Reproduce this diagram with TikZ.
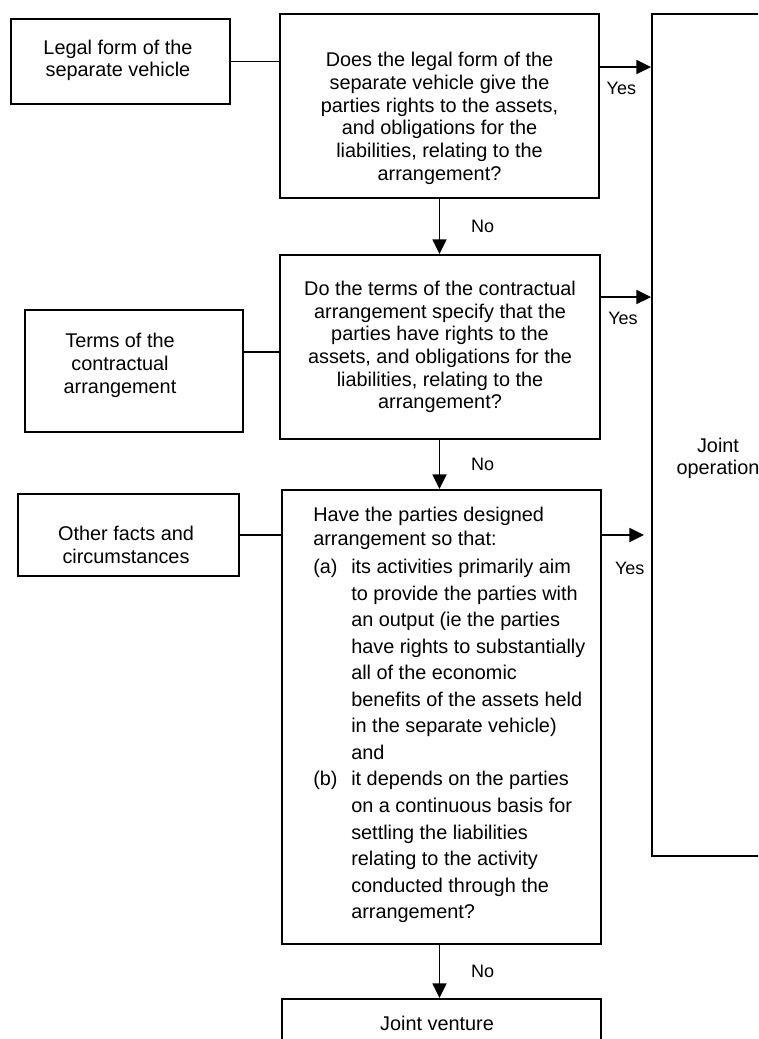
\documentclass[tikz,border=0pt]{standalone}
\usepackage{fontspec}
\setmainfont{Liberation Sans}
\usetikzlibrary{arrows.meta,positioning,fit,calc}

\begin{document}
\begin{tikzpicture}[
  x=0.75pt, y=-0.75pt,
  font=\fontsize{14.9}{17}\selectfont,
  box/.style={draw, line width=1.45pt, inner sep=0pt},
  txt/.style={align=center, inner sep=0pt},
  lbl/.style={font=\fontsize{13.5}{16}\selectfont, inner sep=0pt},
  link/.style={line width=1.4pt},
  arr/.style={line width=1.4pt, -{Triangle[length=11pt,width=10.5pt]}}
]
\useasboundingbox (0,0) rectangle (758,1039);
\clip (0,0) rectangle (758,1039);

% boxes
\node[box, fit={(11,19) (230,104)}] (legal) {};
\node[box, fit={(280,14) (599,198)}] (q1) {};
\node[box, fit={(652,14) (784,856)}] (jop) {};
\node[box, fit={(25,310) (243,432)}] (terms) {};
\node[box, fit={(280,255) (600,439)}] (q2) {};
\node[box, fit={(18,494) (239,576)}] (other) {};
\node[box, fit={(282,490) (601,944)}] (q3) {};
\node[box, fit={(282,999) (601,1070)}] (jv) {};

% texts
\node[txt] (legaltxt) at (118,60.5) {Legal form of the\\separate vehicle};
\node[txt] (q1txt) at (439.5,118.5) {Does the legal form of the\\separate vehicle give the\\parties rights to the assets,\\and obligations for the\\liabilities, relating to the\\arrangement?};
\node[txt] (joptxt) at (718,458.5) {Joint\\operation};
\node[txt] (termstxt) at (120,365.5) {Terms of the\\contractual\\arrangement};
\node[txt] (q2txt) at (440,347) {Do the terms of the contractual\\arrangement specify that the\\parties have rights to the\\assets, and obligations for the\\liabilities, relating to the\\arrangement?};
\node[txt] (othertxt) at (126,545) {Other facts and\\circumstances};
\node[align=left, inner sep=0pt, anchor=north west,
      font=\fontsize{14.9}{19.9}\selectfont] (q3txt) at (313,507) {%
Have the parties designed\\[-1.9pt]
arrangement so that:\\[1.1pt]
\makebox[28.5pt][l]{(a)}its activities primarily aim\\
\hspace*{28.5pt}to provide the parties with\\
\hspace*{28.5pt}an output (ie the parties\\
\hspace*{28.5pt}have rights to substantially\\
\hspace*{28.5pt}all of the economic\\
\hspace*{28.5pt}benefits of the assets held\\
\hspace*{28.5pt}in the separate vehicle)\\
\hspace*{28.5pt}and\\
\makebox[28.5pt][l]{(b)}it depends on the parties\\
\hspace*{28.5pt}on a continuous basis for\\
\hspace*{28.5pt}settling the liabilities\\
\hspace*{28.5pt}relating to the activity\\
\hspace*{28.5pt}conducted through the\\
\hspace*{28.5pt}arrangement?};
\node[txt] (jvtxt) at (437,1023) {Joint venture};

% inputs
\coordinate (tk) at ($(terms.north east)!0.35!(terms.south east)$);
\draw[link] (legal.east) -- (legal.east -| q1.west);
\draw[link] (tk) -- (tk -| q2.west);
\draw[link] (other.east) -- (other.east -| q3.west);

% yes
\coordinate (ya) at ($(q1.north east)+(0,54)$);
\coordinate (yb) at ($(q2.north east)+(0,43)$);
\coordinate (yc) at ($(jop.west |- other.east)+(-7,0)$);
\draw[arr] (ya) -- (ya -| jop.west) node[lbl, pos=0.42, below=10.9pt] (yes1) {Yes};
\draw[arr] (yb) -- (yb -| jop.west) node[lbl, pos=0.44, below=10.9pt] (yes2) {Yes};
\draw[arr] (q3.east |- yc) -- (yc) node[lbl, pos=0.66, below=19.9pt] (yes3) {Yes};

% no
\draw[arr] (q1.south) -- (q1.south |- q2.north) node[lbl, midway, right=23pt] (no1) {No};
\draw[arr] (q1.south |- q2.south) -- (q1.south |- q3.north) node[lbl, midway, right=23pt] (no2) {No};
\draw[arr] (q1.south |- q3.south) -- (q1.south |- jv.north) node[lbl, midway, right=23pt] (no3) {No};
\end{tikzpicture}
\end{document}
